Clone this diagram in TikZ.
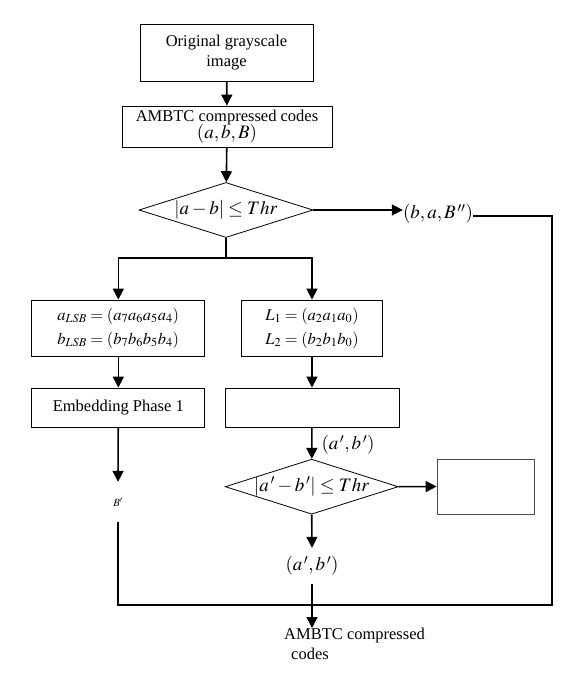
\documentclass[tikz,border=0pt]{standalone}
\usepackage{mathptmx}
\usepackage{fontspec}
\setmainfont{Liberation Serif}
\usetikzlibrary{arrows.meta,shapes.geometric}
\newcommand{\mbigfont}{\fontsize{19}{22}\selectfont}
\begin{document}
\begin{tikzpicture}[x=1pt,y=-1pt,
  font=\fontsize{16.5}{20}\selectfont,
  box/.style={draw,line width=0.8pt,rectangle,inner sep=0pt,align=center},
  dia/.style={draw,line width=0.8pt,shape=diamond,inner sep=0pt,minimum width=174pt,minimum height=55pt},
  arr/.style={line width=1.6pt,-{Triangle[length=11pt,width=11pt]}},
  ln/.style={line width=1.6pt},
  lbl/.style={inner sep=0pt},
  mlbl/.style={inner sep=0pt,font=\mbigfont}]
\useasboundingbox (0,0) rectangle (578,677);
\node[box,minimum width=173pt,minimum height=57pt] (n1) at (226.5,52.5) {Original grayscale\\image};
\node[box,minimum width=210pt,minimum height=41pt] (n2) at (227,126.5) {AMBTC compressed codes\\[-3pt]{\mbigfont$(a,b,B)$}};
\node[dia] (d1) at (226,210) {\makebox[0pt]{\mbigfont$|a-b|\le Thr$}};
\node[mlbl] (t1) at (438,214) {$(b,a,B^{\,\prime\prime})$};
\coordinate (s) at (226,258);
\node[box,minimum width=173pt,minimum height=56pt] (n3) at (118.3,328) {$a_{LSB}=(a_7a_6a_5a_4)$\\[4pt]$b_{LSB}=(b_7b_6b_5b_4)$};
\node[box,minimum width=141pt,minimum height=56pt] (n4) at (312,328) {$L_1=(a_2a_1a_0)$\\[4pt]$L_2=(b_2b_1b_0)$};
\node[box,minimum width=173pt,minimum height=39pt] (n5) at (118.3,407.5) {Embedding Phase 1};
\node[box,minimum width=174pt,minimum height=39pt] (n6) at (312,407.5) {};
\node[mlbl] (l1) at (348,445) {$(a^{\,\prime},b^{\,\prime})$};
\node[dia,minimum width=173pt,minimum height=55pt] (d2) at (311.7,486.7) {\makebox[0pt]{\mbigfont$|a^{\,\prime}-b^{\,\prime}|\le Thr$}};
\node[box,draw=black!70,minimum width=97pt,minimum height=55pt] (n7) at (485.5,486.5) {};
\node[lbl,font=\fontsize{11}{12}\selectfont,minimum height=40pt] (bp) at (118,502) {$B'$};
\node[mlbl,minimum height=36pt] (l2) at (312,566) {$(a^{\,\prime},b^{\,\prime})$};
\node[lbl,anchor=north west,align=left] (fin) at (284,628) {AMBTC compressed\\\hspace*{7pt}codes};
\coordinate (c1) at (552,216);
\coordinate (c2) at (552,605);
\coordinate (c3) at (118,605);
\draw[arr] (n1) -- (n2);
\draw[arr] (n2) -- (d1);
\draw[arr] (d1.east) -- (d1.east -| t1.west);
\draw[ln] (t1.east |- c1) -- (c1) -- (c2) -- (c3) -- (bp.south);
\draw[ln] (d1.south) -- (s);
\draw[arr] (s) -| (n3.north);
\draw[arr] (s) -| (n4.north);
\draw[arr] (n3) -- (n5);
\draw[arr] (n4) -- (n6);
\draw[arr] (n5) -- (bp.north);
\draw[arr] (n6) -- (d2);
\draw[arr] (d2.east) -- (n7.west);
\draw[arr] (d2.south) -- (l2.north);
\draw[arr] (l2.south) -- (l2.south |- fin.north);
\end{tikzpicture}
\end{document}
